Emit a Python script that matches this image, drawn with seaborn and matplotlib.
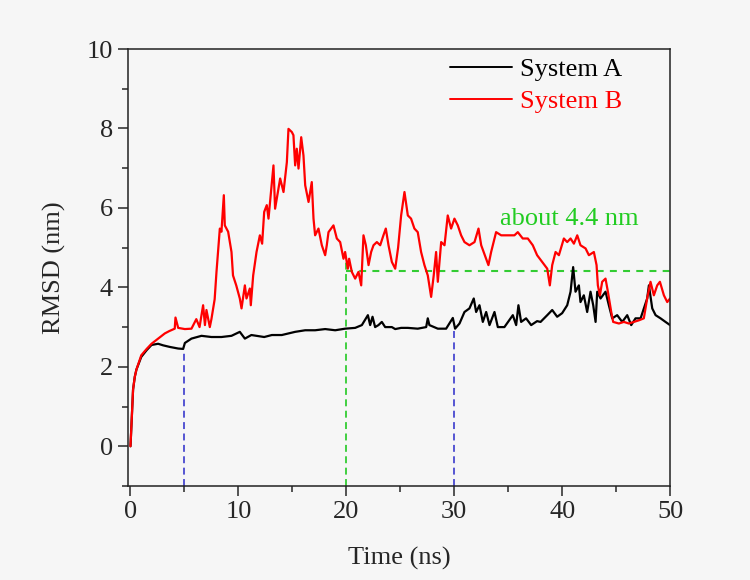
import matplotlib
matplotlib.use("Agg")
import matplotlib.pyplot as plt
import seaborn as sns
import pandas as pd

# ---- data ----
time_a = [0, 0.24, 0.4, 0.55, 1.0, 1.5, 1.95, 2.56, 3.03, 3.65, 4.42, 4.88, 5.04, 5.65, 6.58, 7.5,
          8.43, 9.36, 10.13, 10.6, 11.2, 12.39, 13.1, 14.02, 15.26, 16.19, 17.11, 18.04, 18.97, 19.89,
          20.82, 21.44, 22.0, 22.21, 22.43, 22.67, 22.98, 23.29, 23.6, 24.22, 24.53, 25.08, 25.7, 26.62,
          27.4, 27.55, 27.7, 28.48, 29.25, 29.87, 30.08, 30.49, 30.95, 31.41, 31.81, 32.03, 32.34, 32.65,
          32.96, 33.27, 33.73, 34.04, 34.65, 35.43, 35.74, 35.95, 36.2, 36.66, 37.13, 37.68, 38.0, 38.62,
          39.08, 39.54, 40.0, 40.47, 40.78, 41.02, 41.24, 41.55, 41.7, 42.01, 42.32, 42.63, 42.88, 43.1,
          43.25, 43.56, 44.02, 44.33, 44.64, 45.1, 45.57, 46.03, 46.4, 46.8, 47.27, 47.88, 48.04, 48.35,
          48.66, 49.12, 49.58, 50]
rmsd_a = [0, 1.43, 1.75, 1.93, 2.25, 2.42, 2.55, 2.58, 2.54, 2.5, 2.46, 2.45, 2.6, 2.71, 2.78, 2.75,
          2.75, 2.78, 2.88, 2.71, 2.8, 2.75, 2.8, 2.8, 2.88, 2.92, 2.92, 2.95, 2.92, 2.96,
          2.98, 3.05, 3.3, 3.05, 3.26, 3.0, 3.05, 3.13, 3.0, 3.0, 2.95, 2.98, 2.98, 2.96,
          3.0, 3.22, 3.05, 2.96, 2.96, 3.23, 2.96, 3.09, 3.38, 3.47, 3.72, 3.38, 3.55, 3.13,
          3.38, 3.05, 3.38, 3.0, 3.0, 3.3, 3.05, 3.55, 3.13, 3.22, 3.05, 3.15, 3.13, 3.3,
          3.43, 3.26, 3.35, 3.55, 3.89, 4.51, 3.89, 4.05, 3.63, 3.8, 3.38, 3.89, 3.55, 3.13,
          3.89, 3.72, 3.89, 3.55, 3.22, 3.3, 3.13, 3.3, 3.05, 3.22, 3.22, 3.72, 4.05, 3.47,
          3.3, 3.22, 3.13, 3.05]

time_b = [0, 0.24, 0.4, 0.55, 1.0, 1.5, 1.95, 2.56, 3.18, 3.6, 4.1, 4.17, 4.42, 5.04, 5.65, 6.1, 6.4,
          6.73, 6.9, 7.04, 7.35, 7.5, 7.8, 7.97, 8.28, 8.43, 8.65, 8.74, 9.05, 9.36, 9.5, 9.8, 10.13,
          10.29, 10.6, 10.75, 11.06, 11.15, 11.37, 11.68, 11.99, 12.2, 12.39, 12.63, 12.79, 13.25, 13.4,
          13.87, 14.18, 14.49, 14.64, 14.95, 15.1, 15.26, 15.41, 15.57, 15.82, 16.03, 16.19, 16.5, 16.8,
          16.96, 17.11, 17.42, 17.73, 18.04, 18.19, 18.35, 18.81, 19.12, 19.43, 19.74, 19.89, 20.14,
          20.26, 20.51, 20.82, 21.13, 21.38, 21.59, 21.81, 22.06, 22.3, 22.52, 22.83, 23.14, 23.44,
          23.66, 23.91, 24.22, 24.53, 24.8, 25.08, 25.39, 25.7, 26.0, 26.31, 26.62, 26.93, 27.24, 27.55,
          27.86, 28.1, 28.32, 28.48, 28.79, 29.1, 29.4, 29.71, 30.02, 30.33, 30.64, 30.95, 31.41, 31.88,
          32.25, 32.5, 32.96, 33.17, 33.42, 33.88, 34.35, 34.96, 35.58, 35.89, 36.35, 36.82, 37.28,
          37.68, 38.15, 38.62, 38.86, 39.08, 39.39, 39.7, 40.16, 40.47, 40.78, 41.09, 41.4, 41.7, 42.17,
          42.48, 42.94, 43.19, 43.31, 43.5, 43.71, 44.02, 44.24, 44.55, 44.73, 45.26, 45.72, 46.18,
          46.65, 47.11, 47.57, 47.88, 48.19, 48.5, 48.81, 49.06, 49.43, 49.74, 50]
rmsd_b = [0, 1.43, 1.75, 1.93, 2.29, 2.45, 2.58, 2.71, 2.84, 2.9, 2.96, 3.24, 2.98, 2.95, 2.96, 3.2, 3.0,
          3.55, 3.05, 3.43, 3.0, 3.2, 3.7, 4.39, 5.48, 5.4, 6.32, 5.56, 5.4, 4.89, 4.3, 4.05, 3.72,
          3.47, 4.05, 3.72, 3.97, 3.55, 4.3, 4.89, 5.31, 5.1, 5.9, 6.07, 5.73, 7.07, 5.98,
          6.74, 6.4, 7.15, 7.99, 7.91, 7.83, 7.07, 7.49, 6.99, 7.78, 7.32, 6.57, 6.15, 6.65,
          5.73, 5.31, 5.48, 5.06, 4.81, 5.06, 5.39, 5.56, 5.23, 5.14, 4.72, 4.89, 4.47,
          4.72, 4.39, 4.22, 4.39, 4.05, 5.31, 5.06, 4.56, 4.89, 5.06, 5.14, 5.06, 5.31,
          5.48, 5.06, 4.64, 4.47, 5.0, 5.81, 6.4, 5.81, 5.73, 5.48, 5.39, 4.89, 4.56, 4.3,
          3.76, 4.3, 4.89, 4.14, 5.14, 5.06, 5.81, 5.48, 5.73, 5.56, 5.31, 5.14, 5.06, 5.14,
          5.48, 5.06, 4.72, 4.56, 4.89, 5.39, 5.31, 5.31, 5.31, 5.39, 5.23, 5.23, 5.06,
          4.81, 4.64, 4.47, 4.05, 4.56, 4.89, 4.81, 5.23, 5.14, 5.23, 5.1, 5.31, 5.06, 4.98,
          4.81, 4.89, 4.56, 4.05, 3.8, 4.14, 4.22, 3.89, 3.38, 3.13, 3.09, 3.13, 3.09,
          3.13, 3.17, 3.22, 3.72, 4.14, 3.8, 4.05, 4.14, 3.8, 3.63, 3.72]

series_names = ["System A", "System B"]
series_colors = ["black", "red"]

# guide lines
blue_x = [5, 30]
blue_top = [2.43, 2.93]
green_x = 20
green_top = 4.7
green_level = 4.4
annotation = "about 4.4 nm"

x_ticks = [0, 10, 20, 30, 40, 50]
y_ticks = [0, 2, 4, 6, 8, 10]

# ---- build table ----
df = pd.concat([
    pd.DataFrame({"Time": time_a, "RMSD": rmsd_a, "System": series_names[0]}),
    pd.DataFrame({"Time": time_b, "RMSD": rmsd_b, "System": series_names[1]}),
], ignore_index=True)

sns.set_style("ticks")
plt.rcParams["font.family"] = ["Liberation Serif", "DejaVu Serif"]
plt.rcParams["lines.scale_dashes"] = False

bg = "#f6f6f6"
fig = plt.figure(figsize=(7.5, 5.8), dpi=100, facecolor=bg)
ax = fig.add_axes([0.1711, 0.1621, 0.7223, 0.7534])
ax.set_facecolor(bg)

sns.lineplot(data=df, x="Time", y="RMSD", hue="System", palette=dict(zip(series_names, series_colors)),
             estimator=None, sort=False, linewidth=1.6, ax=ax)

# guide lines
dash = (0, (5, 3.2))
for bx, bt in zip(blue_x, blue_top):
    ax.plot([bx, bx], [-1, bt], color="#3a3acc", linestyle=dash, linewidth=1.2, zorder=1)
ax.plot([green_x, green_x], [-1, green_top], color="#33cc33", linestyle=dash, linewidth=1.3, zorder=1)
ax.plot([green_x, 50], [green_level, green_level], color="#33cc33", linestyle=(0, (5, 4.5)),
        linewidth=1.5, zorder=1)
ax.text(34.2, 5.57, annotation, color="#22cc22", fontsize=19, ha="left", va="baseline")

ax.set_xlim(-0.2, 50)
ax.set_ylim(-1, 10)
ax.set_xticks(x_ticks)
ax.set_yticks(y_ticks)
ax.set_xticks([5, 15, 25, 35, 45], minor=True)
ax.set_yticks([-1, 1, 3, 5, 7, 9], minor=True)
ax.tick_params(axis="both", which="major", direction="out", length=7, width=1.1,
               labelsize=19, pad=4, top=False, right=False)
ax.tick_params(axis="both", which="minor", direction="out", length=4, width=1.1,
               top=False, right=False)
for s in ax.spines.values():
    s.set_visible(True)
    s.set_linewidth(1.1)
    s.set_color("#222222")

ax.set_xlabel("Time (ns)", fontsize=19, labelpad=17)
ax.set_ylabel("RMSD (nm)", fontsize=19, labelpad=15)

handles, labels = ax.get_legend_handles_labels()
leg = ax.legend(handles, labels, loc="upper left", bbox_to_anchor=(0.594, 0.981), frameon=False,
                fontsize=19, handlelength=2.35, handletextpad=0.3, borderpad=0, borderaxespad=0,
                labelspacing=0.34)
for txt, c in zip(leg.get_texts(), series_colors):
    txt.set_color(c)
for ln in leg.get_lines():
    ln.set_linewidth(1.4)

fig.savefig("out.png", dpi=100, facecolor=bg)
